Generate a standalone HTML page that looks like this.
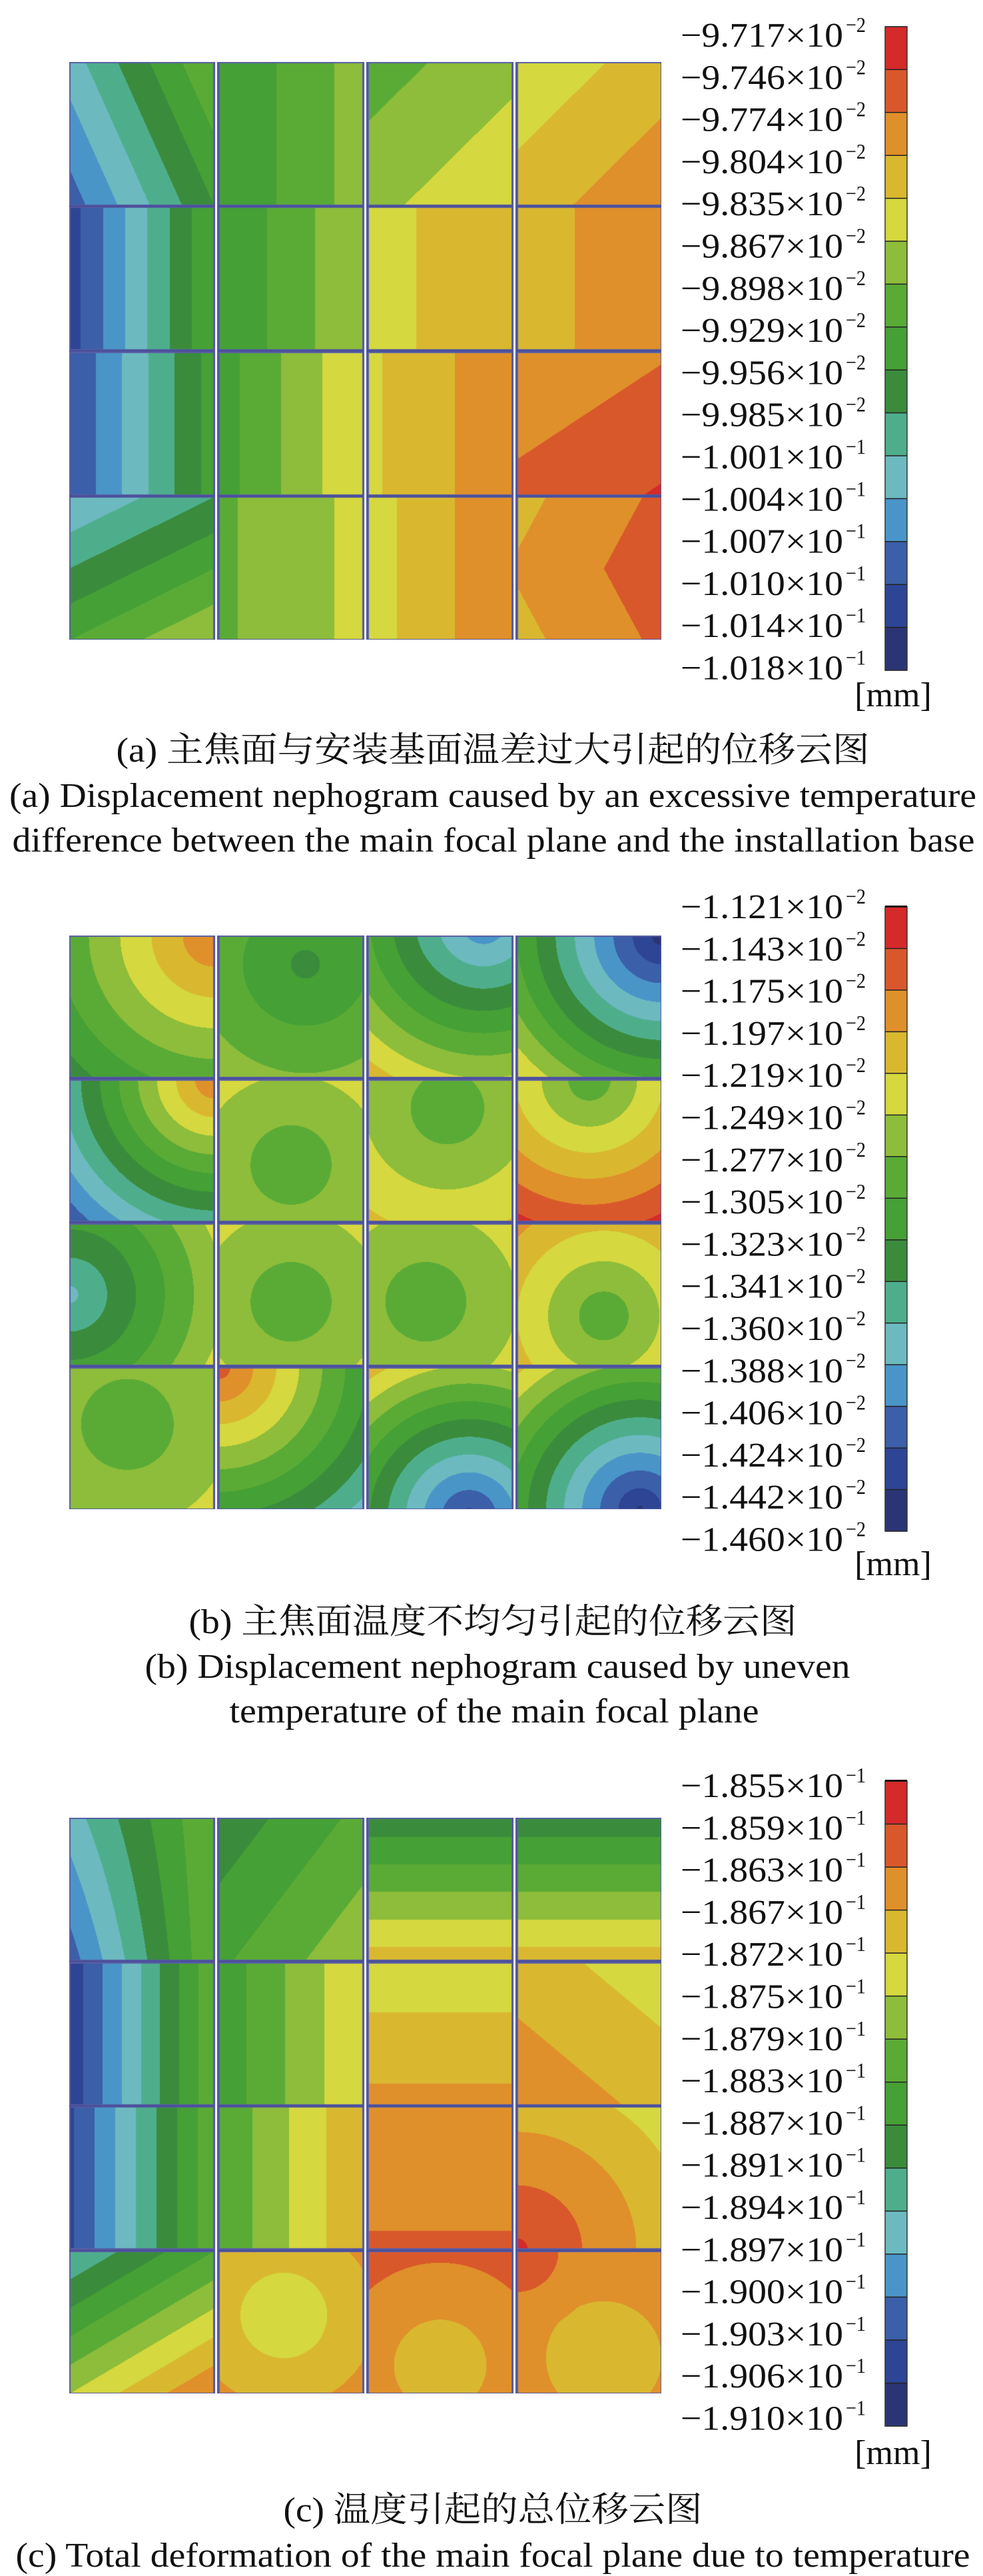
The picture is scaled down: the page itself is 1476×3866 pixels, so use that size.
<!DOCTYPE html>
<html><head><meta charset="utf-8"><style>
html,body{margin:0;padding:0;background:#fff;}
body{width:1476px;height:3866px;position:relative;overflow:hidden;}
canvas{position:absolute;}
svg{position:absolute;left:0;top:0;}
text{font-family:"Liberation Serif","Noto Serif CJK SC",serif;fill:#111;}
</style></head><body>
<canvas id="ca" style="left:104px;top:93px" width="889" height="867"></canvas>
<canvas id="cb" style="left:104px;top:1404px" width="889" height="861"></canvas>
<canvas id="cc" style="left:104px;top:2728px" width="889" height="864"></canvas>
<svg id="s" width="1476" height="3866" xmlns="http://www.w3.org/2000/svg">
<g id="bars"></g>
<g font-size="52">
<text x="1341" y="1060" text-anchor="middle">[mm]</text>
<text x="740" y="1143" text-anchor="middle" textLength="1131" lengthAdjust="spacingAndGlyphs">(a) 主焦面与安装基面温差过大引起的位移云图</text>
<text x="740" y="1211" text-anchor="middle" textLength="1452" lengthAdjust="spacingAndGlyphs">(a) Displacement nephogram caused by an excessive temperature</text>
<text x="741" y="1278" text-anchor="middle" textLength="1445" lengthAdjust="spacingAndGlyphs">difference between the main focal plane and the installation base</text>
<text x="1341" y="2364" text-anchor="middle">[mm]</text>
<text x="740" y="2451" text-anchor="middle" textLength="913" lengthAdjust="spacingAndGlyphs">(b) 主焦面温度不均匀引起的位移云图</text>
<text x="747" y="2518" text-anchor="middle" textLength="1059" lengthAdjust="spacingAndGlyphs">(b) Displacement nephogram caused by uneven</text>
<text x="742" y="2585" text-anchor="middle" textLength="795" lengthAdjust="spacingAndGlyphs">temperature of the main focal plane</text>
<text x="1341" y="3698" text-anchor="middle">[mm]</text>
<text x="740" y="3784" text-anchor="middle" textLength="629" lengthAdjust="spacingAndGlyphs">(c) 温度引起的总位移云图</text>
<text x="740" y="3852" text-anchor="middle" textLength="1433" lengthAdjust="spacingAndGlyphs">(c) Total deformation of the main focal plane due to temperature</text>
</g>
</svg>
<script>
var COL=["#d42a2a","#d9582b","#e0902a","#d9b830","#d5d83e","#8dbd3a","#5aab36","#45a035","#3a8c3c","#4eae8c","#6cbac0","#4a95c8","#3b5fa8","#2d4594","#2b3575"];
var RGB=COL.map(function(h){return[parseInt(h.substr(1,2),16),parseInt(h.substr(3,2),16),parseInt(h.substr(5,2),16)];});
function d(x,y,a,b){return Math.sqrt((x-a)*(x-a)+(y-b)*(y-b));}
var FA=[
[function(x,y){return 10.5-4.5*x+2*y},function(x,y){return 8-2.5*x},function(x,y){return 6.5-1.2*x-1.2*y},function(x,y){return 4.8-1.3*x-1.3*y}],
[function(x,y){return 13.5-6.5*x},function(x,y){return 8-3*x},function(x,y){return 4.5-1.5*x},function(x,y){return 3.4-1*x}],
[function(x,y){return 13-5.5*x},function(x,y){return 7.5-3.5*x},function(x,y){return 4.2-2*x},function(x,y){return 2.9-0.8*x-1.2*y}],
[function(x,y){return 11-2*x-4*y},function(x,y){return 6.2-1.5*x},function(x,y){return 4.5-2.5*x},function(x,y){return 2.9-1.5*x+0.8*Math.abs(y-0.5)}]];
var FB=[
[function(x,y){return 2+6*d(x,y,1,0)/1.3},function(x,y){return 8.3-3*d(x,y,0.6,0.2)},function(x,y){return 12-7*d(x,y,0.8,-0.1)/1.1},function(x,y){return 14.5-9*d(x,y,1,0)/1.2}],
[function(x,y){return 2+9.5*d(x,y,1,0)/1.25},function(x,y){return 6.8-2*d(x,y,0.5,0.6)/0.7},function(x,y){return 6.8-2.2*d(x,y,0.55,0.2)/0.7},function(x,y){return 6.8-6*d(x,y,0.5,0)/1.1}],
[function(x,y){return 10.3-5*d(x,y,0,0.5)},function(x,y){return 6.8-2*d(x,y,0.5,0.55)/0.7},function(x,y){return 6.8-2*d(x,y,0.4,0.55)/0.7},function(x,y){return 6.8-3.5*d(x,y,0.6,0.65)/0.75}],
[function(x,y){return 6.8-1.5*d(x,y,0.4,0.4)/0.6},function(x,y){return 1.5+8.8*d(x,y,0,0)/1.4},function(x,y){return 13.5-8*d(x,y,0.7,1.05)},function(x,y){return 14.2-8*d(x,y,0.85,1)}]];
var FC=[
[function(x,y){return 12.5-6.5*x-2*(1-y)*(1-x)},function(x,y){return 8.7-2*x-1.5*y},function(x,y){return 8.7-5.2*y},function(x,y){return 8.7-5.2*y}],
[function(x,y){return 13.7-7.5*x},function(x,y){return 7.7-3.7*x},function(x,y){return 4.7-2*y},function(x,y){return 4.6-1.1*(1-x)-1.3*y}],
[function(x,y){return 13.2-7*x},function(x,y){return 6.9-3.9*x},function(x,y){return 3-1.15*y},function(x,y){return 0.8+3.2*d(x,y,0,1)/1.2}],
[function(x,y){return 10-3*x-5*y},function(x,y){return 4.9-1.5*d(x,y,0.45,0.45)/0.5},function(x,y){return 2.3+1.5*(1-d(x,y,0.5,0.8)/0.6)},function(x,y){return Math.min(3.8-1.2*d(x,y,0.6,0.75)/0.6,1+3.5*d(x,y,0,0))}]];
function draw(id,F){
 var c=document.getElementById(id),W=c.width,H=c.height,g=c.getContext('2d');
 var im=g.createImageData(W,H),D=im.data;
 var gap=7,tw=(W-3*gap)/4,th=(H-3*3)/4;
 for(var py=0;py<H;py++){for(var px=0;px<W;px++){
  var i=(py*W+px)*4;
  var cx=Math.floor(px/(tw+gap)),ox=px-cx*(tw+gap);
  var ry=Math.floor(py/(th+3)),oy=py-ry*(th+3);
  var r,gg,b;
  if(cx>3)cx=3; if(ry>3)ry=3;
  var inX=ox<tw, inY=oy<th;
  if(!inX){ if(ox<tw+2||ox>=tw+gap-2){r=74;gg=79;b=154;}else{r=255;gg=255;b=255;} }
  else if(!inY){r=74;gg=79;b=154;}
  else if(ox<2||ox>tw-2||oy<1.5||oy>th-1.5){r=90;gg=95;b=165;}
  else{var v=F[ry][cx](ox/tw,oy/th);var k=Math.floor(v);if(k<0)k=0;if(k>14)k=14;r=RGB[k][0];gg=RGB[k][1];b=RGB[k][2];}
  D[i]=r;D[i+1]=gg;D[i+2]=b;D[i+3]=255;}}
 g.putImageData(im,0,0);
}
draw('ca',FA);draw('cb',FB);draw('cc',FC);
var NS="http://www.w3.org/2000/svg",bars=document.getElementById('bars');
function el(t,a,txt){var e=document.createElementNS(NS,t);for(var k in a)e.setAttribute(k,a[k]);if(txt!=null)e.textContent=txt;bars.appendChild(e);return e;}
function bar(top,bot,labels,exps,ly0,cap){
 var h=(bot-top)/15;
 for(var i=0;i<15;i++)el('rect',{x:1329,y:top+i*h,width:33,height:h+0.5,fill:COL[i]});
 for(var i=0;i<=15;i++)el('line',{x1:1329,x2:1362,y1:top+i*h,y2:top+i*h,stroke:'#222','stroke-width':1.5});
 el('rect',{x:1329,y:top,width:33,height:bot-top,fill:'none',stroke:'#333','stroke-width':1.5});
 if(cap)el('rect',{x:1329,y:top-2,width:33,height:3,fill:'#111'});
 for(var i=0;i<16;i++){var y=ly0+i*63.3;
  el('text',{x:1266,y:y+18,'text-anchor':'end','font-size':52,textLength:244,lengthAdjust:'spacingAndGlyphs'},labels[i]+'×10');
  el('text',{x:1270,y:y-4,'font-size':32,textLength:30,lengthAdjust:'spacingAndGlyphs'},'−'+exps[i]);}
}
function L(a){return a.map(function(s){return '−'+s;});}
bar(40,1006,L(["9.717","9.746","9.774","9.804","9.835","9.867","9.898","9.929","9.956","9.985","1.001","1.004","1.007","1.010","1.014","1.018"]),[2,2,2,2,2,2,2,2,2,2,1,1,1,1,1,1],52,false);
bar(1361,2298,L(["1.121","1.143","1.175","1.197","1.219","1.249","1.277","1.305","1.323","1.341","1.360","1.388","1.406","1.424","1.442","1.460"]),[2,2,2,2,2,2,2,2,2,2,2,2,2,2,2,2],1360,true);
bar(2673,3641,L(["1.855","1.859","1.863","1.867","1.872","1.875","1.879","1.883","1.887","1.891","1.894","1.897","1.900","1.903","1.906","1.910"]),[1,1,1,1,1,1,1,1,1,1,1,1,1,1,1,1],2679,true);
</script>
</body></html>
